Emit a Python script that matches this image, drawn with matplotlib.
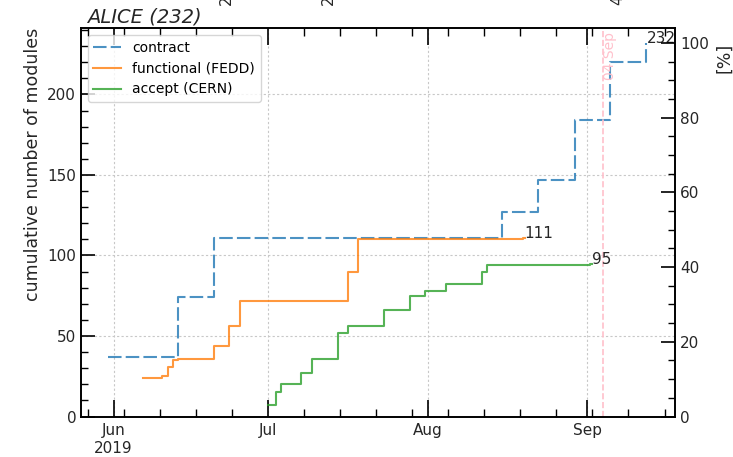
import matplotlib
matplotlib.use('Agg')
import matplotlib.pyplot as plt
import matplotlib.dates as mdates
import matplotlib.transforms as mtransforms
from matplotlib.ticker import MultipleLocator, FuncFormatter
import pandas as pd

total_modules = 232
title = 'ALICE (232)'

contract_dates = ['2019-05-31 00:00', '2019-06-13 12:00', '2019-06-20 12:00', '2019-08-15 12:00',
                  '2019-08-22 12:00', '2019-08-29 14:00', '2019-09-05 12:00', '2019-09-12 12:00']
contract_vals = [37, 74, 111, 127, 147, 184, 220, 232]

functional_dates = ['2019-06-06 18:00', '2019-06-10 12:00', '2019-06-11 15:00', '2019-06-12 12:00',
                    '2019-06-13 12:00', '2019-06-20 12:00', '2019-06-23 12:00', '2019-06-25 12:00',
                    '2019-07-16 12:00', '2019-07-18 12:00', '2019-08-19 12:00', '2019-08-19 20:00']
functional_vals = [24, 25, 31, 35, 36, 44, 56, 72, 90, 110, 111, 111]

accept_dates = ['2019-07-01 00:00', '2019-07-02 12:00', '2019-07-03 12:00', '2019-07-07 12:00',
                '2019-07-09 12:00', '2019-07-14 12:00', '2019-07-16 12:00', '2019-07-23 12:00',
                '2019-07-28 12:00', '2019-07-31 12:00', '2019-08-04 12:00', '2019-08-11 12:00',
                '2019-08-12 12:00', '2019-09-01 12:00', '2019-09-02 00:00']
accept_vals = [7, 15, 20, 27, 36, 52, 56, 66, 75, 78, 82, 90, 94, 95, 95]

marker_date = '2019-09-04'
marker_label = '04 Sep'

# clipped rotated labels visible at the very top edge of the figure (cut off in the original too)
top_frag_dates = ['2019-06-23 00:00', '2019-07-12 16:00', '2019-09-07 00:00']
top_frag_texts = ['2', '2', '4']

series = [
    ('contract', contract_dates, contract_vals, '#1f77b4', (0, (6.5, 2))),
    ('functional (FEDD)', functional_dates, functional_vals, '#ff7f0e', '-'),
    ('accept (CERN)', accept_dates, accept_vals, '#2ca02c', '-'),
]

txt = '#262626'
fig = plt.figure(figsize=(7.33, 4.57), dpi=100)
ax = fig.add_axes([0.1105, 0.0886, 0.8104, 0.8501])
trans = mtransforms.blended_transform_factory(ax.transData, ax.transAxes)

for label, d, v, c, ls in series:
    dd = pd.to_datetime(d, format='%Y-%m-%d %H:%M')
    ax.plot(dd, v, drawstyle='steps-post', color=c, ls=ls, lw=1.5, alpha=0.8, label=label)
    ax.text(dd[-1], v[-1], str(v[-1]), fontsize=11, color=txt, ha='left', va='baseline')

md = pd.Timestamp(marker_date)
ax.axvline(md, color='pink', ls='--', lw=1.2)
ax.text(md, 0.99, marker_label, rotation=90, color='pink', fontsize=10,
        ha='left', va='top', transform=trans)

for d, t in zip(top_frag_dates, top_frag_texts):
    ax.text(pd.Timestamp(d), 1.059, t, rotation=90, fontsize=11, color=txt,
            ha='center', va='bottom', transform=trans, clip_on=False)

ymax = total_modules * 1.04
ax.set_xlim(pd.Timestamp('2019-05-25 16:30'), pd.Timestamp('2019-09-18 01:00'))
ax.set_ylim(0, ymax)

ax.xaxis.set_major_locator(mdates.MonthLocator())
ax.xaxis.set_minor_locator(mdates.WeekdayLocator(byweekday=mdates.MO))

def fmt(x, pos):
    d = mdates.num2date(x)
    if pos == 0:
        return d.strftime('%b\n%Y')
    return d.strftime('%b')

ax.xaxis.set_major_formatter(FuncFormatter(fmt))
ax.yaxis.set_major_locator(MultipleLocator(50))
ax.yaxis.set_minor_locator(MultipleLocator(10))

ax.grid(True, which='major', ls=(0, (2, 2)), color='#c8c8c8', lw=0.8)
ax.tick_params(axis='x', which='major', direction='in', top=True, length=12, width=1.2,
               labelsize=11, labelcolor=txt, pad=5)
ax.tick_params(axis='x', which='minor', direction='in', top=True, length=6, width=1.0)
ax.tick_params(axis='y', which='major', direction='in', right=False, length=10, width=1.2,
               labelsize=11, labelcolor=txt)
ax.tick_params(axis='y', which='minor', direction='in', right=False, length=5, width=1.0)
for s in ax.spines.values():
    s.set_linewidth(1.2)

ax.set_ylabel('cumulative number of modules', fontsize=12.5, color=txt, loc='top')

ax2 = ax.twinx()
ax2.set_ylim(0, ymax / total_modules * 100)
ax2.yaxis.set_major_locator(MultipleLocator(20))
ax2.yaxis.set_minor_locator(MultipleLocator(5))
ax2.tick_params(axis='y', which='major', direction='in', length=10, width=1.2,
                labelsize=11, labelcolor=txt)
ax2.tick_params(axis='y', which='minor', direction='in', length=5, width=1.0)
for s in ax2.spines.values():
    s.set_linewidth(1.2)
ax2.set_ylabel('[%]', fontsize=12.5, color=txt)
ax2.yaxis.set_label_coords(1.068, 0.923)

ax.text(0.011, 1.005, title, transform=ax.transAxes, fontsize=14, style='italic',
        color=txt, ha='left', va='bottom')

ax.legend(loc='upper left', fontsize=10)

fig.savefig('out.png', dpi=100)
